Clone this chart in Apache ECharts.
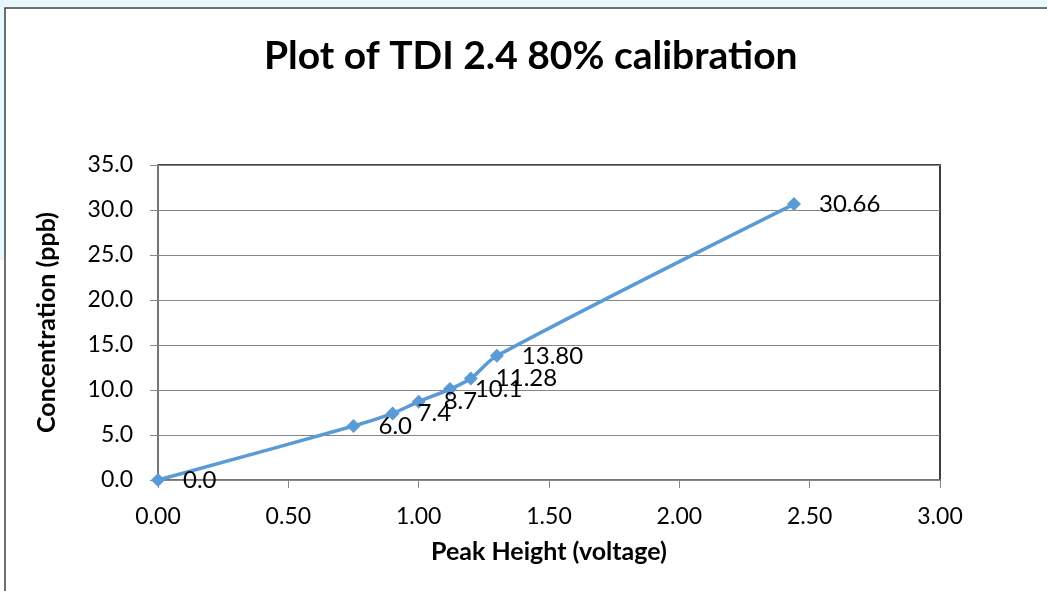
<!DOCTYPE html>
<html>
<head>
<meta charset="utf-8">
<script src="https://cdn.jsdelivr.net/npm/echarts@6/dist/echarts.min.js"></script>
<style>
  html, body { margin: 0; padding: 0; background: #fff; }
  #main { width: 1047px; height: 591px; }
</style>
</head>
<body>
<div id="main"></div>
<script>
// calibration points
const peakHeight = [0, 0.75, 0.9, 1.0, 1.12, 1.2, 1.3, 2.44];
const concentration = [0, 6.0, 7.4, 8.7, 10.1, 11.28, 13.8, 30.66];
const pointLabels = ["0.0", "6.0", "7.4", "8.7", "10.1", "11.28", "13.80", "30.66"];

const FONT = "Lato";

const myChart = echarts.init(document.getElementById("main"), null, { renderer: "canvas" });

myChart.setOption({
  backgroundColor: "#fff",
  animation: false,
  title: {
    text: "Plot of TDI 2.4 80% calibration",
    left: 259,
    top: 32,
    textStyle: { fontFamily: FONT, fontSize: 39, fontWeight: "bold", color: "#000" },
  },
  // outer chart frame (only left + top edge visible)
  graphic: [
    { type: "rect", shape: { x: 0, y: 0, width: 1047, height: 7 }, style: { fill: "#e6f8fb" }, silent: true },
    { type: "rect", shape: { x: 0, y: 0, width: 4, height: 260 }, style: { fill: "#e6f8fb" }, silent: true },
    {
      type: "rect",
      shape: { x: 5, y: 8, width: 1200, height: 800 },
      style: { fill: "none", stroke: "#404040", lineWidth: 1.5 },
      silent: true,
    },
  ],
  grid: {
    left: 158,
    right: 107,
    top: 165,
    bottom: 111,
    show: true,
    borderColor: "#000",
    borderWidth: 1.5,
  },
  xAxis: {
    type: "value",
    min: 0,
    max: 3,
    interval: 0.5,
    name: "Peak Height (voltage)",
    nameLocation: "middle",
    nameGap: 59,
    nameTextStyle: { fontFamily: FONT, fontSize: 25, fontWeight: "bold", color: "#000" },
    axisLine: { show: true, onZero: false, lineStyle: { color: "#868686", width: 1.5 } },
    axisTick: { show: true, inside: false, length: 8, lineStyle: { color: "#868686" } },
    axisLabel: {
      fontFamily: FONT, fontSize: 23, color: "#000", margin: 25,
      formatter: (v) => v.toFixed(2),
    },
    splitLine: { show: false },
  },
  yAxis: {
    type: "value",
    min: 0,
    max: 35,
    interval: 5,
    name: "Concentration (ppb)",
    nameLocation: "middle",
    nameGap: 99,
    nameRotate: 90,
    nameTextStyle: { fontFamily: FONT, fontSize: 25, fontWeight: "bold", color: "#000" },
    axisLine: { show: true, onZero: false, lineStyle: { color: "#868686", width: 1.5 } },
    axisTick: { show: true, inside: false, length: 8, lineStyle: { color: "#868686" } },
    axisLabel: {
      fontFamily: FONT, fontSize: 23, color: "#000", margin: 25,
      formatter: (v) => v.toFixed(1),
    },
    splitLine: { show: true, lineStyle: { color: "#868686", width: 1 } },
  },
  series: [
    {
      type: "line",
      data: peakHeight.map((x, i) => [x, concentration[i]]),
      smooth: 0.3,
      symbol: "diamond",
      symbolSize: 14,
      lineStyle: { color: "#5b9bd5", width: 3.5 },
      itemStyle: { color: "#5b9bd5" },
      label: {
        show: true,
        position: "right",
        distance: 18,
        fontFamily: FONT,
        fontSize: 24,
        color: "#000",
        formatter: (p) => pointLabels[p.dataIndex],
      },
    },
  ],
});
</script>
</body>
</html>
